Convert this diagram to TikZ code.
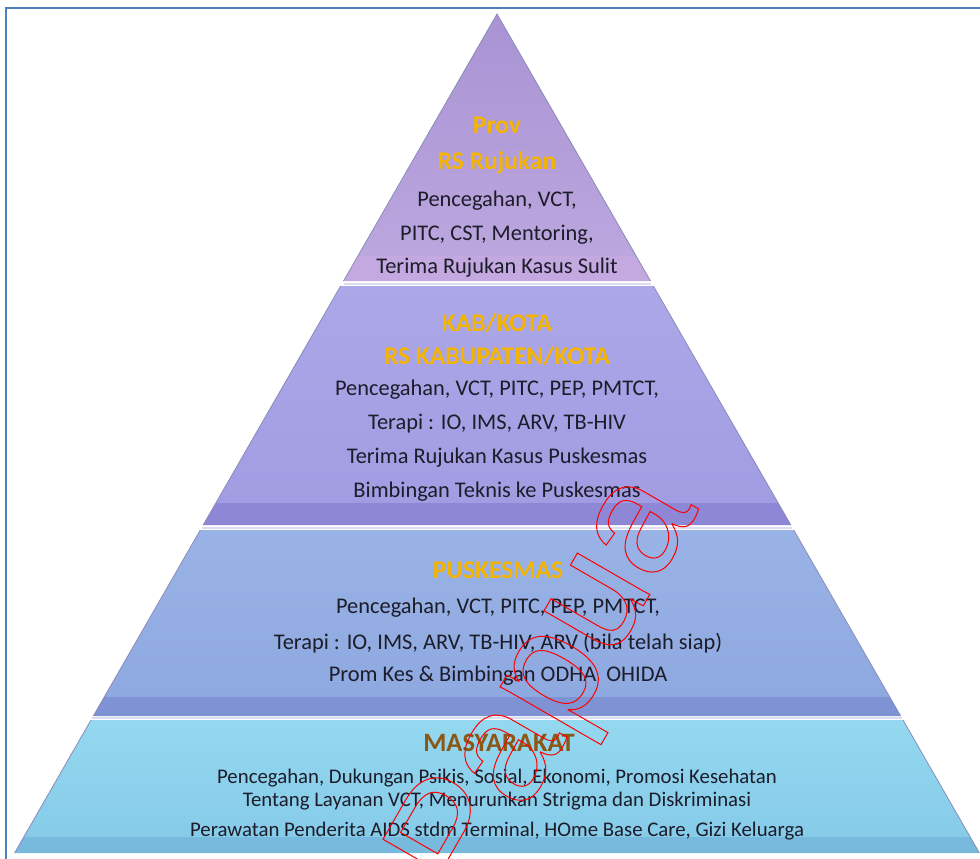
\documentclass[tikz,border=0pt]{standalone}
\usepackage{fontspec}
\setmainfont{Carlito}
\newfontfamily\wmfont{Liberation Sans}
\definecolor{tOneA}{HTML}{A993D4}
\definecolor{tOneB}{HTML}{BBA6DE}
\definecolor{tOneLip}{HTML}{C3A9E0}
\definecolor{tTwoA}{HTML}{ABA7E8}
\definecolor{tTwoB}{HTML}{A29DE2}
\definecolor{tTwoLip}{HTML}{8E87D6}
\definecolor{tThreeA}{HTML}{9AB3E6}
\definecolor{tThreeB}{HTML}{8EA9E0}
\definecolor{tThreeLip}{HTML}{7F93D4}
\definecolor{tFourA}{HTML}{94D8F0}
\definecolor{tFourB}{HTML}{86CBE8}
\definecolor{tFourLip}{HTML}{78BADD}
\definecolor{sepline}{HTML}{DCDCF2}
\definecolor{edgeline}{HTML}{8A8CB8}
\definecolor{framecol}{HTML}{4F81BD}
\definecolor{headcol}{HTML}{F5B400}
\definecolor{mascol}{HTML}{8A5714}
\definecolor{bodycol}{HTML}{1C1C2A}
\tikzset{
  head/.style={font=\bfseries\fontsize{25.5}{27}\selectfont, text=headcol, inner sep=0pt},
  mashead/.style={font=\bfseries\fontsize{26.5}{28}\selectfont, text=mascol, inner sep=0pt},
  body/.style={font=\fontsize{22.4}{24}\selectfont, text=bodycol, inner sep=0pt},
  smallbody/.style={font=\fontsize{20.8}{22}\selectfont, text=bodycol, inner sep=0pt},
  tieredge/.style={draw=edgeline, line width=0.8pt},
}
\begin{document}
\begin{tikzpicture}[x=1pt, y=-1pt]
\useasboundingbox (0,0) rectangle (980,859);
\fill[white] (0,0) rectangle (980,859);
% frame
\draw[framecol, line width=2pt] (6,859) -- (6,8) -- (981,8);
% tier 1
\shade[top color=tOneA, bottom color=tOneB] (497,14) -- (357.8,256) -- (636.2,256) -- cycle;
\fill[tOneLip] (357.8,256) -- (343.5,281) -- (650.5,281) -- (636.2,256) -- cycle;
\draw[tieredge] (343.5,281) -- (497,14) -- (650.5,281);
% tier 2
\shade[top color=tTwoA, bottom color=tTwoB] (340.6,286) -- (215.8,503) -- (778.2,503) -- (653.4,286) -- cycle;
\fill[tTwoLip] (215.8,503) -- (203.2,525) -- (790.8,525) -- (778.2,503) -- cycle;
\draw[tieredge] (340.6,286) -- (203.2,525) (653.4,286) -- (790.8,525);
% tier 3
\shade[top color=tThreeA, bottom color=tThreeB] (200.3,530) -- (104.3,697) -- (889.7,697) -- (793.7,530) -- cycle;
\fill[tThreeLip] (104.3,697) -- (93.3,716) -- (900.7,716) -- (889.7,697) -- cycle;
\draw[tieredge] (200.3,530) -- (93.3,716) (793.7,530) -- (900.7,716);
% tier 4
\shade[top color=tFourA, bottom color=tFourB] (91,720) -- (23.8,837) -- (970.2,837) -- (903,720) -- cycle;
\fill[tFourLip] (23.8,837) -- (14.6,853) -- (979.4,853) -- (970.2,837) -- cycle;
\draw[tieredge] (91,720) -- (14.6,853) (903,720) -- (979.4,853);
% separators
\draw[sepline, line width=2pt] (343.5,283.5) -- (650.5,283.5);
\draw[sepline, line width=2pt] (201.7,527.5) -- (792.3,527.5);
\draw[sepline, line width=2pt] (92.2,718) -- (901.8,718);
% tier 1 text
\node[head] (p1) at (497,125) {Prov};
\node[head] (p2) at (497,163) {RS Rujukan};
\node[body] (p3) at (497,201) {Pencegahan, VCT,};
\node[body] (p4) at (497,235) {PITC, CST, Mentoring,};
\node[body] (p5) at (497,268) {Terima Rujukan Kasus Sulit};
% tier 2 text
\node[head] (k1) at (497,323) {KAB/KOTA};
\node[head] (k2) at (497,356) {RS KABUPATEN/KOTA};
\node[body] (k3) at (497,390) {Pencegahan, VCT, PITC, PEP, PMTCT,};
\node[body] (k4) at (497,424) {Terapi : IO, IMS, ARV, TB-HIV};
\node[body] (k5) at (497,458) {Terima Rujukan Kasus Puskesmas};
\node[body] (k6) at (497,492) {Bimbingan Teknis ke Puskesmas};
% tier 3 text
\node[head] (u1) at (498,570) {PUSKESMAS};
\node[body] (u2) at (498,608) {Pencegahan, VCT, PITC, PEP, PMTCT,};
\node[body] (u3) at (498,643) {Terapi : IO, IMS, ARV, TB-HIV, ARV (bila telah siap)};
\node[body] (u4) at (498,676) {Prom Kes \& Bimbingan ODHA\ \ OHIDA};
% tier 4 text
\node[mashead] (m1) at (499,743) {MASYARAKAT};
\node[smallbody] (m2) at (497,778) {Pencegahan, Dukungan Psikis, Sosial, Ekonomi, Promosi Kesehatan};
\node[smallbody] (m3) at (497,801) {Tentang Layanan VCT, Menurunkan Strigma dan Diskriminasi};
\node[smallbody] (m4) at (497,831) {Perawatan Penderita AIDS stdm Terminal, HOme Base Care, Gizi Keluarga};
% watermark
\begin{scope}
\clip (0,0) rectangle (980,859);
\node[rotate=60, text=red, inner sep=0pt, font=\wmfont\fontsize{158}{158}\selectfont] (wm) at (552,688) {\special{pdf:code 1 Tr 1 w}Papua\special{pdf:code 0 Tr}};
\end{scope}
\end{tikzpicture}
\end{document}
